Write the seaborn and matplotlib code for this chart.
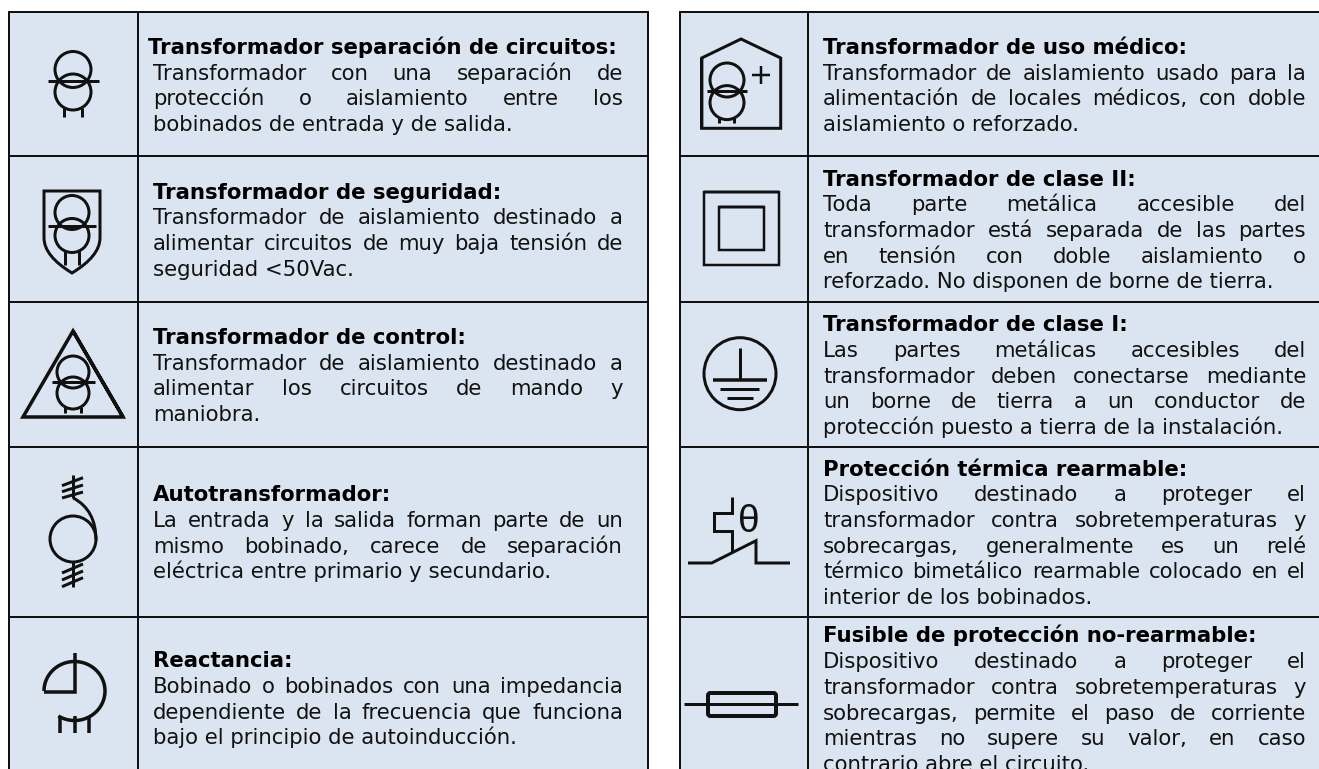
import numpy as np
import matplotlib
matplotlib.use("Agg")
import matplotlib.pyplot as plt
from matplotlib.patches import Rectangle, Circle, FancyBboxPatch, PathPatch
from matplotlib.path import Path
from matplotlib.font_manager import FontProperties
import seaborn as sns

# Table contents: heading + body lines, line breaks as in the picture
left_titles = ["Transformador separación de circuitos:", "Transformador de seguridad:",
               "Transformador de control:", "Autotransformador:", "Reactancia:"]
left_bodies = [
    ["Transformador con una separación de", "protección o aislamiento entre los",
     "bobinados de entrada y de salida."],
    ["Transformador de aislamiento destinado a", "alimentar circuitos de muy baja tensión de",
     "seguridad <50Vac."],
    ["Transformador de aislamiento destinado a", "alimentar los circuitos de mando y",
     "maniobra."],
    ["La entrada y la salida forman parte de un", "mismo bobinado, carece de separación",
     "eléctrica entre primario y secundario."],
    ["Bobinado o bobinados con una impedancia", "dependiente de la frecuencia que funciona",
     "bajo el principio de autoinducción."],
]
right_titles = ["Transformador de uso médico:", "Transformador de clase II:", "Transformador de clase I:",
                "Protección térmica rearmable:", "Fusible de protección no-rearmable:"]
right_bodies = [
    ["Transformador de aislamiento usado para la", "alimentación de locales médicos, con doble",
     "aislamiento o reforzado."],
    ["Toda parte metálica accesible del", "transformador está separada de las partes",
     "en tensión con doble aislamiento o", "reforzado. No disponen de borne de tierra."],
    ["Las partes metálicas accesibles del", "transformador deben conectarse mediante",
     "un borne de tierra a un conductor de", "protección puesto a tierra de la instalación."],
    ["Dispositivo destinado a proteger el", "transformador contra sobretemperaturas y",
     "sobrecargas, generalmente es un relé", "térmico bimetálico rearmable colocado en el",
     "interior de los bobinados."],
    ["Dispositivo destinado a proteger el", "transformador contra sobretemperaturas y",
     "sobrecargas, permite el paso de corriente", "mientras no supere su valor, en caso",
     "contrario abre el circuito."],
]

# layout, in image pixels
W, H = 1319, 769
CELL = "#DBE5F1"
INK = "#111111"
TOP = 12.3
ROW_LINES = [156, 302, 446.7, 616.7]
LEFT_T = (9, 137.7, 648.3)
RIGHT_T = (680, 807.7, 1325)
LEFT_TEXT = (153, 623)
RIGHT_TEXT = (823, 1306)
STEP = 25.7
LEFT_BASE = [54, 198.7, 344, 501.4, 667.4]
RIGHT_BASE = [54, 185.7, 331.4, 475.7, 642.4]
FS = 15.3

sns.set_theme(style="white")
plt.rcParams["font.family"] = ["DejaVu Sans"]

fig = plt.figure(figsize=(W / 100, H / 100), dpi=100)
ax = fig.add_axes([0, 0, 1, 1])


def px(w):
    return w * 0.72


def stroke(xs, ys, w=3, **kw):
    sns.lineplot(x=xs, y=ys, sort=False, estimator=None, color=INK, lw=px(w),
                 solid_capstyle=kw.pop("cap", "butt"), solid_joinstyle="miter",
                 legend=False, ax=ax, **kw)


def ring(cx, cy, r, w=3):
    ax.add_patch(Circle((cx, cy), r, fill=False, ec=INK, lw=px(w)))


def transformer(cx, cy1, cy2, r, line_y, x0, x1, legs, leg_end, w=3):
    ring(cx, cy1, r, w)
    ring(cx, cy2, r, w)
    stroke([x0, x1], [line_y, line_y], w)
    for lx in legs:
        stroke([lx, lx], [cy2 + np.sqrt(max(r**2 - (lx - cx)**2, 0)), leg_end], w)


def table(edges, titles, bodies, bases, text_span, title_dx=0):
    x0, xm, x1 = edges
    ax.add_patch(Rectangle((x0, TOP), x1 - x0, H + 10 - TOP, fc=CELL, ec="none"))
    for y in [TOP] + ROW_LINES:
        stroke([x0 - 1, x1 + 1], [y, y], 2)
    stroke([x0, x0], [TOP, H + 5], 2)
    stroke([xm, xm], [TOP, H + 5], 2)
    stroke([x1, x1], [TOP, H + 5], 2)

    a, b = text_span
    rend = fig.canvas.get_renderer()
    prop = FontProperties(family="DejaVu Sans", size=FS)
    for i, (title, body, base) in enumerate(zip(titles, bodies, bases)):
        ax.text(a + (title_dx if i == 0 else 0), base, title, fontsize=FS, fontweight="bold",
                color="black", va="baseline", ha="left")
        for j, line in enumerate(body):
            y = base + STEP * (j + 1)
            if j == len(body) - 1:
                ax.text(a, y, line, fontsize=FS, color=INK, va="baseline", ha="left")
                continue
            # justified line: share the free room between the gaps
            words = line.split(" ")
            widths = [rend.get_text_width_height_descent(t, prop, False)[0] for t in words]
            gap = (b - a - sum(widths)) / (len(words) - 1)
            x = a
            for word, wd in zip(words, widths):
                ax.text(x, y, word, fontsize=FS, color=INK, va="baseline", ha="left")
                x += wd + gap


table(LEFT_T, left_titles, left_bodies, LEFT_BASE, LEFT_TEXT, title_dx=-5)
table(RIGHT_T, right_titles, right_bodies, RIGHT_BASE, RIGHT_TEXT)

# --- left symbols ---
transformer(73, 69.5, 92, 18, 81, 48, 99, [64, 82], 117)

# shield
verts = [(44, 191), (100, 191), (100, 238), (100, 256), (72, 273), (44, 256), (44, 238), (44, 191)]
codes = [Path.MOVETO, Path.LINETO, Path.LINETO, Path.CURVE3, Path.CURVE3, Path.CURVE3, Path.CURVE3, Path.CLOSEPOLY]
ax.add_patch(PathPatch(Path(verts, codes), fill=False, ec=INK, lw=px(3)))
transformer(72, 212.5, 235.5, 17, 225.7, 48, 96, [65, 79], 265)

# triangle
stroke([73, 123, 23, 73, 123], [331, 417, 417, 331, 417], 3.5)
transformer(73, 372, 393, 16, 382, 52, 95, [65, 81], 413)

# autotransformer
ring(73, 539, 23)
stroke([73.3, 73.3], [475, 498])
for y0, y1 in [(485.7, 477.7), (491.7, 485), (498, 492)]:
    stroke([62, 83], [y0, y1])
ax.add_patch(PathPatch(Path([(73.3, 498), (96, 510), (96, 540)], [Path.MOVETO, Path.CURVE3, Path.CURVE3]),
                       fill=False, ec=INK, lw=px(3)))
stroke([73.3, 73.3], [562, 587])
for y0, y1 in [(573, 564), (580, 571), (586.7, 577.7)]:
    stroke([62, 83], [y0, y1])

# reactance
ang = np.radians(np.linspace(180, 180 + 302, 80))
stroke(list(74.5 + 30.5 * np.cos(ang)), list(691 + 29.5 * np.sin(ang)), 3.5)
stroke([44, 74.5, 74.5], [692, 692, 653], 3.5)
for lx in [60, 74.7, 89]:
    stroke([lx, lx], [716, 732.6], 3.5)

# --- right symbols ---
stroke([701.7, 701.7, 741, 780.7, 780.7, 701.7, 701.7], [128.3, 58, 39, 58, 128.3, 128.3, 58], 3)
transformer(727, 80, 102.6, 17, 90.7, 706.7, 747, [719, 734], 123)
stroke([752, 770], [75, 75], 2.5)
stroke([761, 761], [66, 84], 2.5)

# class II
for a0, a1, b0, b1 in [(704, 779.3, 192.3, 265), (719, 764.3, 207.3, 250)]:
    stroke([a0, a1, a1, a0, a0, a1], [b0, b0, b1, b1, b0, b0], 2.5)

# class I / earth
ring(740, 373.7, 36)
stroke([740, 740], [348, 379], 3)
stroke([713, 767], [379.5, 379.5], 3.5)
stroke([720, 759], [389, 389], 3)
stroke([727, 753], [398, 398], 3)

# thermal protection
stroke([688, 711.7, 756, 756, 790], [563, 563, 540.7, 563, 563], 3)
stroke([731.7, 731.7, 714, 714, 731.7, 731.7], [551.7, 530.7, 530.7, 512.7, 512.7, 497.3], 3)
ax.text(749.3, 532.5, "θ", fontsize=28, family="Liberation Sans", color=INK, ha="center", va="baseline")

# fuse
ax.add_patch(FancyBboxPatch((708, 693), 68, 23, boxstyle="round,pad=0,rounding_size=2.5",
                            fill=False, ec=INK, lw=px(4)))
stroke([684, 798], [704, 704], 3)

ax.set_xlim(0, W)
ax.set_ylim(H, 0)
ax.axis("off")
fig.savefig("out.png", dpi=100, facecolor="white")
